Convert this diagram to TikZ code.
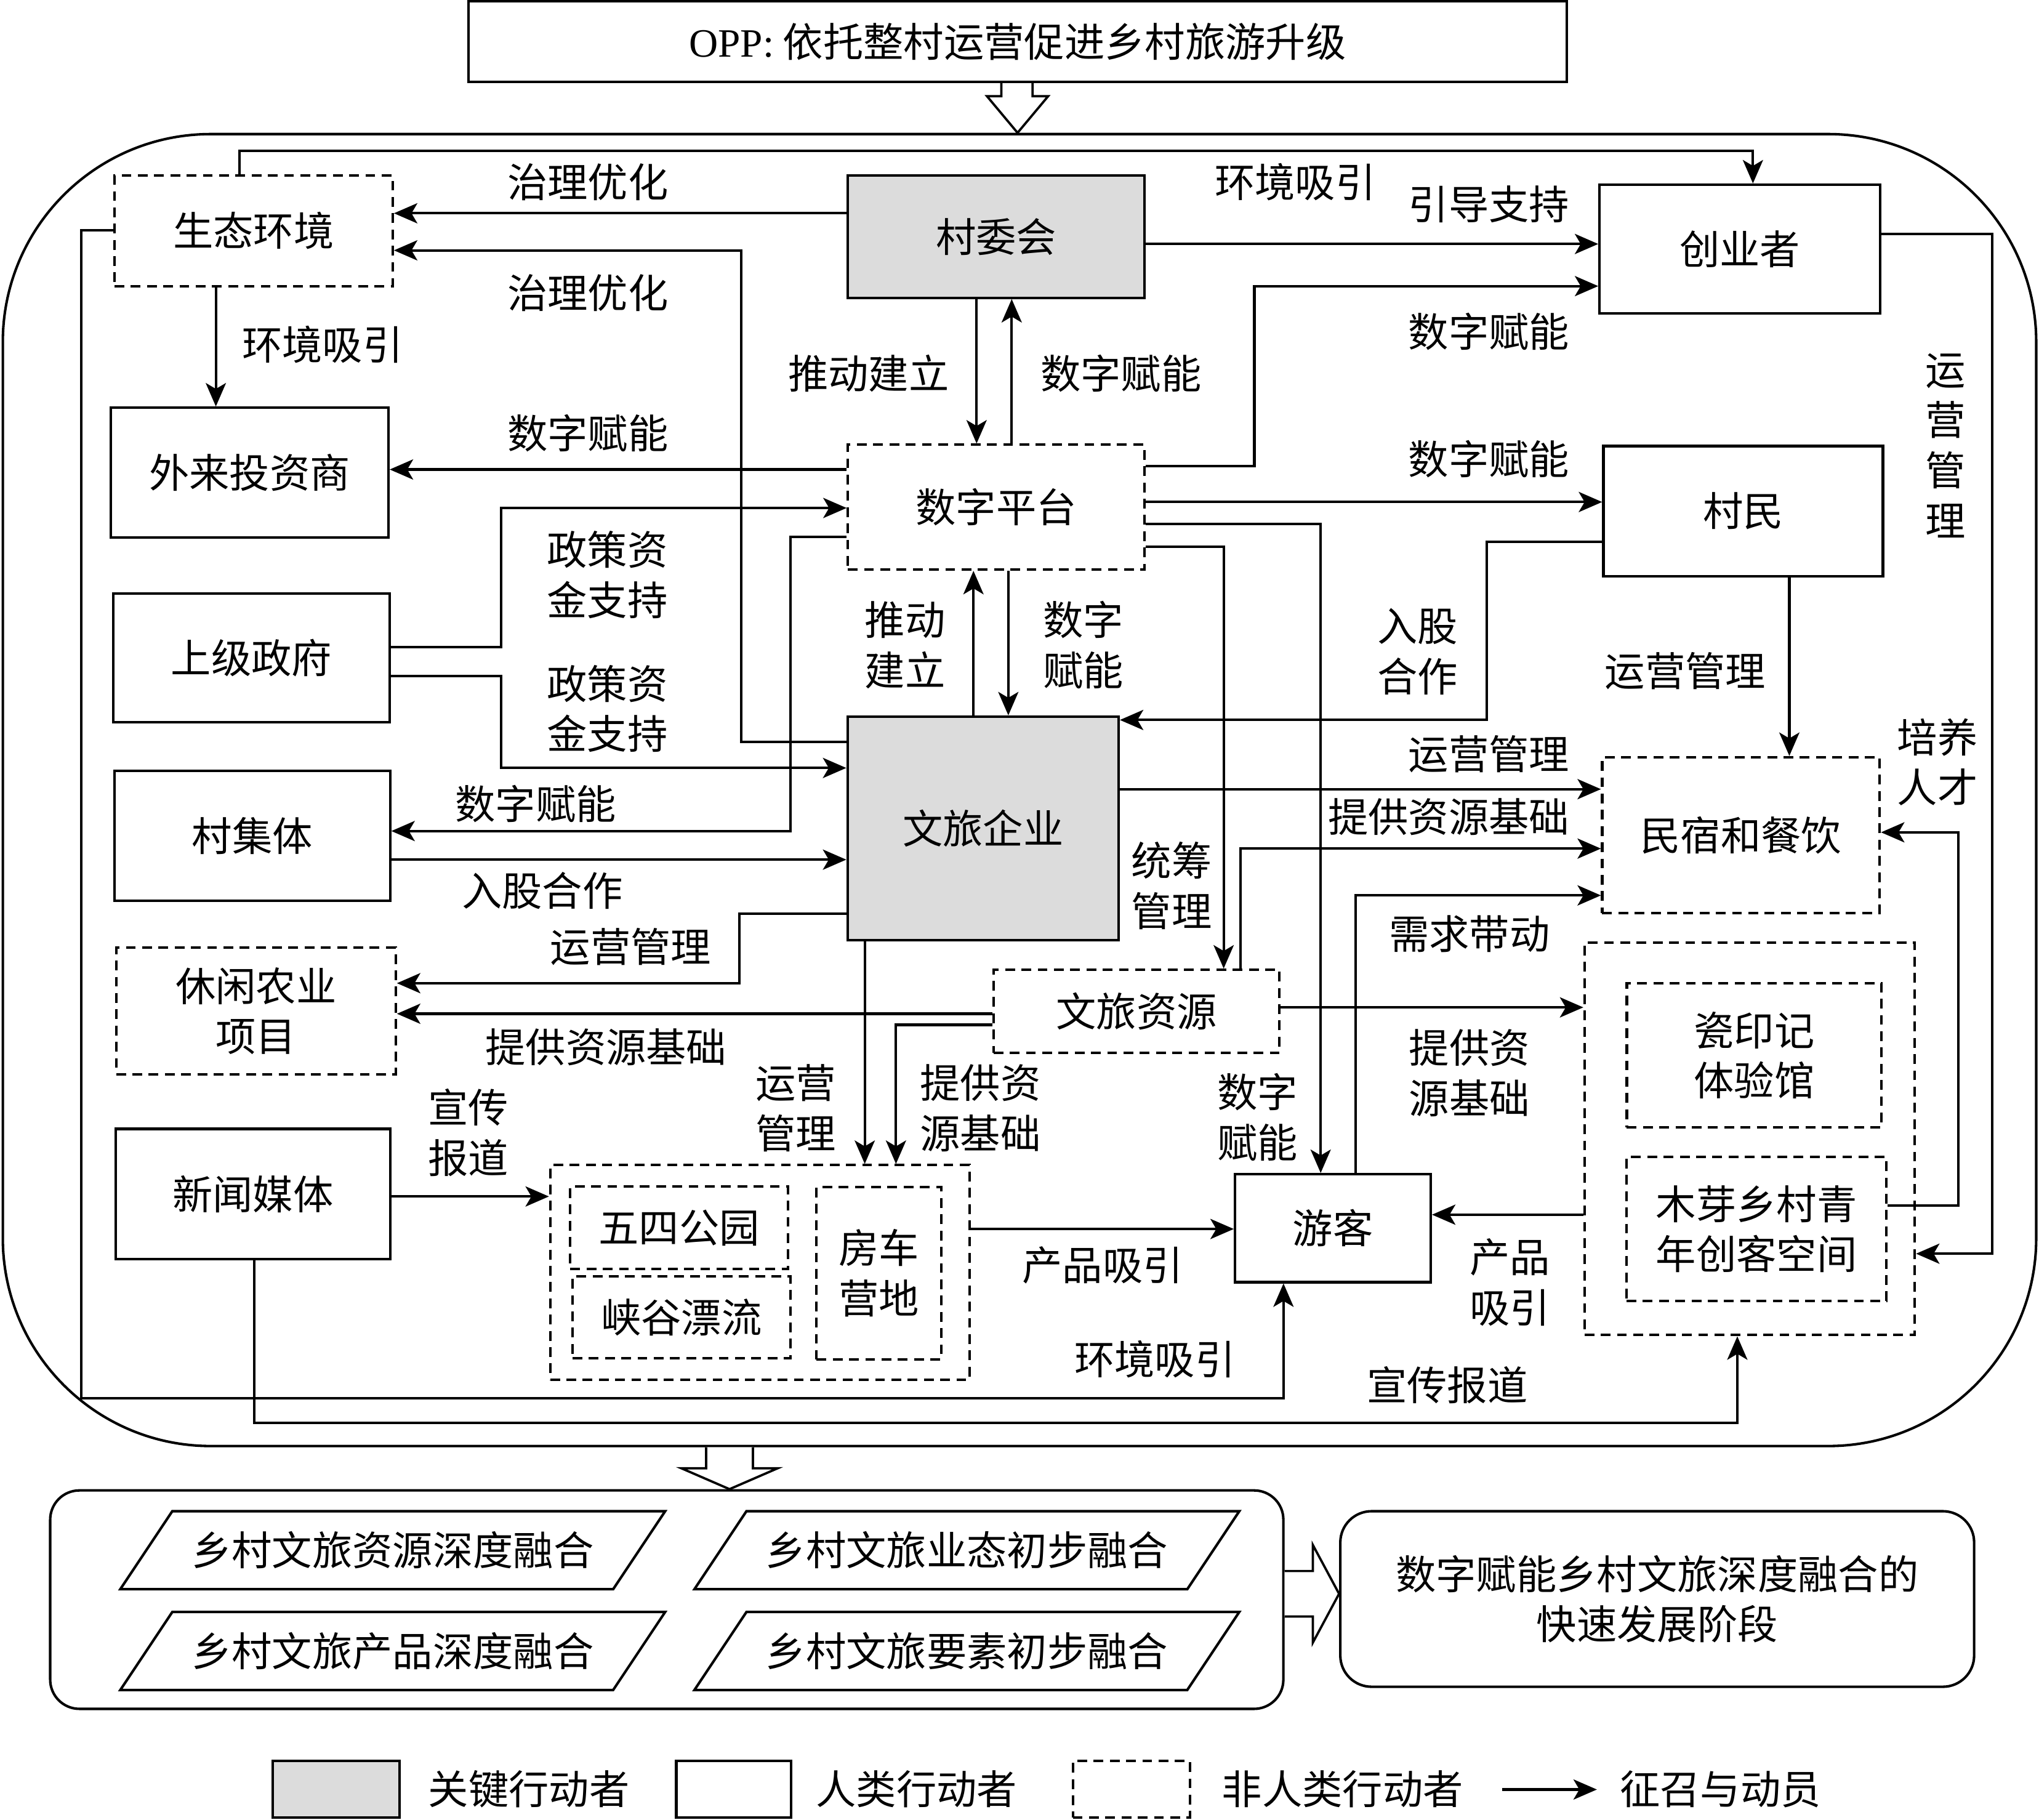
\documentclass[tikz,border=0pt]{standalone}
\usepackage{fontspec}
\setmainfont{Noto Sans CJK SC}
\newfontfamily\latinfont{Liberation Serif}
\usetikzlibrary{arrows.meta}
\definecolor{keygray}{RGB}{220,220,220}
\tikzset{
  every node/.style={font=\fontsize{17.6pt}{22pt}\selectfont, inner sep=0pt, align=center},
  actor/.style={draw, line width=1.1pt},
  keyactor/.style={actor, fill=keygray},
  nonhuman/.style={draw, line width=1.1pt, dash pattern=on 1.5mm off 1mm},
  link/.style={line width=1.1pt},
  flow/.style={link, -{Stealth[length=3.6mm,width=3.1mm,inset=0.9mm]}},
  hollow/.style={line width=1pt, fill=white, line join=miter},
}
\begin{document}
\begin{tikzpicture}[x=0.02cm, y=-0.02cm]
  \useasboundingbox (0,0) rectangle (1568,1399);
  % frames
  \node[actor, minimum width=16.9cm, minimum height=1.24cm] (opp) at (782.5,32) {{\latinfont OPP:} 依托整村运营促进乡村旅游升级};
  \node[actor, rounded corners=3.2cm, minimum width=31.28cm, minimum height=20.18cm] (frame) at (784,607.5) {};
  \node[actor, rounded corners=0.45cm, minimum width=18.97cm, minimum height=3.36cm] (stagebox) at (512.75,1230) {};
  \node[actor, rounded corners=0.48cm, minimum width=9.75cm, minimum height=2.7cm] (fastbox) at (1274.4,1229.5) {数字赋能乡村文旅深度融合的\\快速发展阶段};

  % actors
  \node[nonhuman, minimum width=4.28cm, minimum height=1.7cm] (stht) at (195,177.5) {生态环境};
  \node[keyactor, minimum width=4.56cm, minimum height=1.88cm] (cwh) at (766,182) {村委会};
  \node[actor, minimum width=4.32cm, minimum height=1.98cm] (cyz) at (1338,191.5) {创业者};
  \node[actor, minimum width=4.27cm, minimum height=2cm] (wltz) at (192,363.5) {外来投资商};
  \node[nonhuman, minimum width=4.56cm, minimum height=1.92cm] (szpt) at (766,390) {数字平台};
  \node[actor, minimum width=4.3cm, minimum height=2cm] (cm) at (1340.5,393) {村民};
  \node[actor, minimum width=4.26cm, minimum height=1.98cm] (sjzf) at (193.4,506) {上级政府};
  \node[keyactor, minimum width=4.17cm, minimum height=3.44cm] (wlqy) at (756,637) {文旅企业};
  \node[actor, minimum width=4.24cm, minimum height=2cm] (cjt) at (194,642.7) {村集体};
  \node[nonhuman, minimum width=4.27cm, minimum height=2.4cm] (msc) at (1338.8,642.2) {民宿和餐饮};
  \node[nonhuman, minimum width=4.3cm, minimum height=1.95cm] (xxny) at (196.8,777.4) {休闲农业\\项目};
  \node[nonhuman, minimum width=4.4cm, minimum height=1.28cm] (wlzy) at (874,777.7) {文旅资源};
  \node[nonhuman, minimum width=5.08cm, minimum height=6.04cm] (rgrp) at (1345.5,875.6) {};
  \node[nonhuman, minimum width=3.92cm, minimum height=2.22cm] (cyj) at (1349,811.5) {瓷印记\\体验馆};
  \node[nonhuman, minimum width=4cm, minimum height=2.22cm] (mycy) at (1350.8,945) {木芽乡村青\\年创客空间};
  \node[actor, minimum width=4.22cm, minimum height=2cm] (xwmt) at (194.5,918) {新闻媒体};
  \node[nonhuman, minimum width=6.45cm, minimum height=3.3cm] (bgrp) at (584.3,978.4) {};
  \node[nonhuman, minimum width=3.35cm, minimum height=1.27cm] (wsgy) at (522.3,944) {五四公园};
  \node[nonhuman, minimum width=3.35cm, minimum height=1.26cm] (xgpl) at (524,1012.9) {峡谷漂流};
  \node[nonhuman, minimum width=1.92cm, minimum height=2.65cm] (fcyd) at (675.9,979) {房车\\营地};
  \node[actor, minimum width=3.01cm, minimum height=1.66cm] (yk) at (1025,944.4) {游客};

  % block arrows
  \draw[hollow] (opp.south -| 770,0) -- (770,74) -- (759,74) -- (frame.north -| 782.5,0) -- (806,74) -- (794,74) -- (opp.south -| 794,0);
  \draw[hollow] (frame.south -| 543,0) -- (543,1129) -- (524,1129) -- (stagebox.north -| 561,0) -- (598,1129) -- (579,1129) -- (frame.south -| 579,0);
  \draw[hollow] (stagebox.east |- 0,1208) -- (1009.6,1208) -- (1009.6,1188) -- (fastbox.west |- 0,1225.5) -- (1009.6,1263) -- (1009.6,1243) -- (stagebox.east |- 0,1243);

  % stages
  \foreach \px/\py/\t/\n in {0/0/乡村文旅资源深度融合/st1, 441.5/0/乡村文旅业态初步融合/st2, 0/77.5/乡村文旅产品深度融合/st3, 441.5/77.5/乡村文旅要素初步融合/st4} {
    \draw[link] (92.5+\px,1222+\py) -- (471.5+\px,1222+\py) -- (511.5+\px,1162+\py) -- (132.5+\px,1162+\py) -- cycle;
    \node (\n) at (302+\px,1192+\py) {\t};
  }

  % connectors
  \draw[flow] (stht.north -| 184,0) |- (1348,116) -- (cyz.north -| 1348,0);
  \node (l1) at (996,140) {环境吸引};
  \draw[flow] (cwh.west |- 0,164) -- (stht.east |- 0,164);
  \node (l2) at (452,140) {治理优化};
  \draw[flow] (wlqy.west |- 0,570.6) -| (570,192.5) -- (stht.east |- 0,192.5);
  \node (l3) at (452,225) {治理优化};
  \draw[flow] (stht.south -| 166,0) -- (wltz.north -| 166,0);
  \node (l4) at (248,265) {环境吸引};
  \draw[flow] (stht.west |- 0,177) -| (62.5,1075) -| (yk.south -| 987,0);
  \node (l5) at (888,1045) {环境吸引};
  \draw[flow] (xwmt.south -| 195.5,0) |- (1336,1094) -- (rgrp.south -| 1336,0);
  \node (l6) at (1113,1065) {宣传报道};
  \draw[flow] (xwmt.east |- 0,920) -- (bgrp.west |- 0,920);
  \node (l7) at (360,871) {宣传\\报道};
  \draw[flow] (cwh.south -| 751,0) -- (szpt.north -| 751,0);
  \node (l8) at (668,287) {推动建立};
  \draw[flow] (szpt.north -| 778,0) -- (cwh.south -| 778,0);
  \node (l9) at (862,287) {数字赋能};
  \draw[flow] (cwh.east |- 0,187.6) -- (cyz.west |- 0,187.6);
  \node (l10) at (1145,157) {引导支持};
  \draw[flow] (szpt.east |- 0,358.6) -| (964.6,220) -- (cyz.west |- 0,220);
  \node (l11) at (1145,255) {数字赋能};
  \draw[flow] (szpt.west |- 0,361) -- (wltz.east |- 0,361);
  \node (l12) at (452,333) {数字赋能};
  \draw[flow] (szpt.east |- 0,386) -- (cm.west |- 0,386);
  \node (l13) at (1145,353) {数字赋能};
  \draw[flow] (sjzf.east |- 0,497.6) -| (385.5,390.6) -- (szpt.west |- 0,390.6);
  \node (l14) at (467,442) {政策资\\金支持};
  \draw[flow] (sjzf.east |- 0,520) -| (385.5,590.5) -- (wlqy.west |- 0,590.5);
  \node (l15) at (467,545) {政策资\\金支持};
  \draw[flow] (szpt.west |- 0,413) -| (607.7,639) -- (cjt.east |- 0,639);
  \node (l16) at (412,618) {数字赋能};
  \draw[flow] (cjt.east |- 0,661) -- (wlqy.west |- 0,661);
  \node (l17) at (417,685) {入股合作};
  \draw[flow] (wlqy.west |- 0,702.7) -| (568.7,756) -- (xxny.east |- 0,756);
  \node (l18) at (485,728) {运营管理};
  \draw[flow] (wlzy.west |- 0,779.5) -- (xxny.east |- 0,779.5);
  \node (l19) at (466,805) {提供资源基础};
  \draw[flow] (wlqy.north -| 748.6,0) -- (szpt.south -| 748.6,0);
  \node (l20) at (696,496) {推动\\建立};
  \draw[flow] (szpt.south -| 775.4,0) -- (wlqy.north -| 775.4,0);
  \node (l21) at (833,496) {数字\\赋能};
  \draw[flow] (cm.west |- 0,416.5) -| (1143.5,553.6) -- (wlqy.east |- 0,553.6);
  \node (l22) at (1090,501) {入股\\合作};
  \draw[flow] (cm.south -| 1376,0) -- (msc.north -| 1376,0);
  \node (l23) at (1296,516) {运营管理};
  \draw[flow] (wlqy.east |- 0,606.8) -- (msc.west |- 0,606.8);
  \node (l24) at (1145,580) {运营管理};
  \draw[flow] (wlzy.north -| 954,0) |- (msc.west |- 0,652.5);
  \node (l25) at (1114,628) {提供资源基础};
  \draw[flow] (yk.north -| 1042.6,0) |- (msc.west |- 0,688.5);
  \node (l26) at (1130,718) {需求带动};
  \draw[flow] (szpt.east |- 0,420.3) -| (wlzy.north -| 941,0);
  \node (l27) at (901,681) {统筹\\管理};
  \draw[flow] (szpt.east |- 0,402.7) -| (yk.north -| 1015.6,0);
  \node (l28) at (967,859) {数字\\赋能};
  \draw[flow] (wlzy.east |- 0,774.6) -- (rgrp.west |- 0,774.6);
  \node (l29) at (1130,825) {提供资\\源基础};
  \draw[flow] (wlqy.south -| 665,0) -- (bgrp.north -| 665,0);
  \node (l30) at (612,852) {运营\\管理};
  \draw[flow] (wlzy.west |- 0,788) -| (bgrp.north -| 689,0);
  \node (l31) at (754,852) {提供资\\源基础};
  \draw[flow] (bgrp.east |- 0,945) -- (yk.west |- 0,945);
  \node (l32) at (848,973) {产品吸引};
  \draw[flow] (rgrp.west |- 0,934) -- (yk.east |- 0,934);
  \node (l33) at (1161,986) {产品\\吸引};
  \draw[flow] (cyz.east |- 0,180) -| (1532,964) -- (rgrp.east |- 0,964);
  \node (l34) at (1496,342.5) {运\\营\\管\\理};
  \draw[flow] (mycy.east |- 0,927) -| (1506,640) -- (msc.east |- 0,640);
  \node (l35) at (1490,586) {培养\\人才};

  % legend
  \node[keyactor, minimum width=1.95cm, minimum height=0.87cm] (lgkey) at (258.3,1375.8) {};
  \node (lgkeyt) at (406.8,1375.5) {关键行动者};
  \node[actor, minimum width=1.77cm, minimum height=0.87cm] (lghum) at (564.3,1375.8) {};
  \node (lghumt) at (704.8,1375.5) {人类行动者};
  \node[nonhuman, minimum width=1.8cm, minimum height=0.87cm] (lgnon) at (870,1375.8) {};
  \node (lgnont) at (1032.5,1375.5) {非人类行动者};
  \coordinate (lga) at (1155,1376);
  \coordinate (lgb) at (1228,1376);
  \draw[flow] (lga) -- (lgb);
  \node (lgflowt) at (1323,1375.5) {征召与动员};
\end{tikzpicture}
\end{document}
